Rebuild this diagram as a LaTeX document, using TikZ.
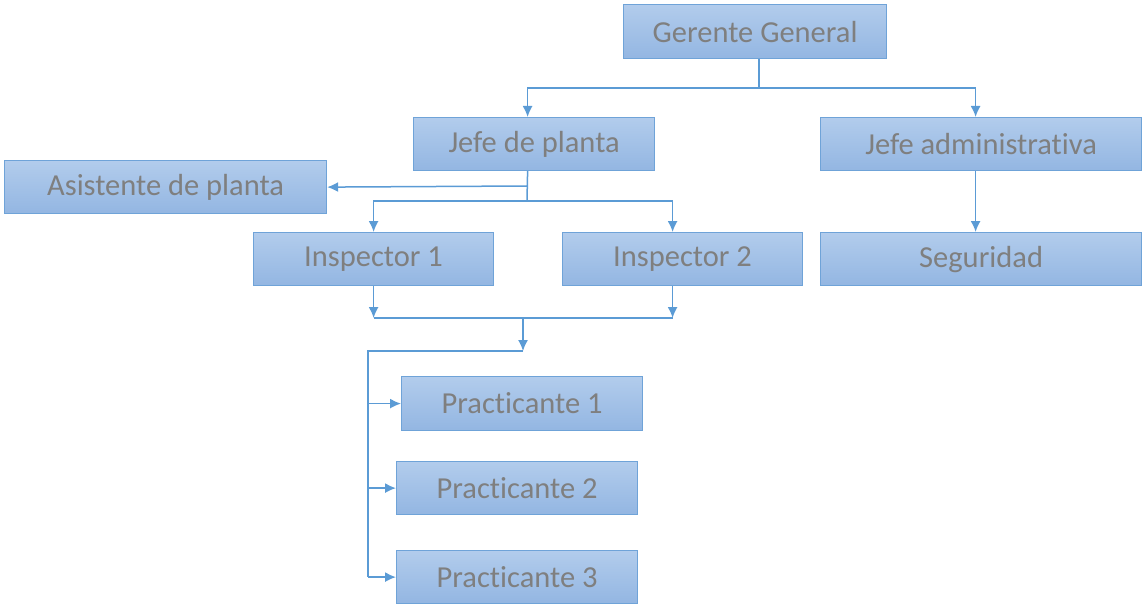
\documentclass[tikz,border=0pt]{standalone}
\usepackage{fontspec}
\setmainfont{Carlito}[Ligatures=NoCommon]
\usetikzlibrary{arrows.meta}
\definecolor{boxtop}{HTML}{B2CCEC}
\definecolor{boxbot}{HTML}{93B6E2}
\definecolor{boxline}{HTML}{6FA3D8}
\definecolor{linkc}{HTML}{5B9BD5}
\definecolor{txt}{HTML}{7F7F7F}
\begin{document}
\begin{tikzpicture}[x=1pt,y=-1pt,
  box/.style={draw=boxline, line width=1.2pt, top color=boxtop, bottom color=boxbot,
    text=txt, font=\fontsize{30.5}{36}\selectfont, inner sep=0pt, anchor=north west},
  link/.style={draw=linkc, line width=1.5pt},
  arr/.style={link, -{Latex[length=11pt,width=10pt]}}]
\useasboundingbox (0,0) rectangle (1142,604);

% boxes
\node[box, minimum width=263pt, minimum height=54pt] (gg) at (623,4) {Gerente General};
\node[box, minimum width=241pt, minimum height=53pt] (jp) at (413,117) {Jefe de planta};
\node[box, minimum width=321pt, minimum height=53pt] (ja) at (820,117) {Jefe administrativa};
\node[box, minimum width=322pt, minimum height=53pt] (ap) at (4,160) {Asistente de planta};
\node[box, minimum width=240pt, minimum height=53pt] (i1) at (253,232) {Inspector 1};
\node[box, minimum width=240pt, minimum height=53pt] (i2) at (562,232) {Inspector 2};
\node[box, minimum width=321pt, minimum height=53pt] (seg) at (820,232) {Seguridad};
\node[box, minimum width=241pt, minimum height=54pt] (p1) at (401,376) {Practicante 1};
\node[box, minimum width=241pt, minimum height=53pt] (p2) at (396,461) {Practicante 2};
\node[box, minimum width=241pt, minimum height=53pt] (p3) at (396,550) {Practicante 3};

% Gerente General to the two heads
\coordinate (g1) at (759,88);
\draw[link] (g1 |- gg.south) -- (g1);
\draw[arr] (g1) -| ([xshift=-6.5pt]jp.north);
\draw[arr] (g1) -| ([xshift=-5.5pt]ja.north);
\draw[arr] ([xshift=-5.5pt]ja.south) -- ([xshift=-5.5pt]seg.north);

% Jefe de planta to assistant and inspectors
\coordinate (j1) at (527,186);
\coordinate (j2) at (527,201);
\draw[link] ([xshift=-6.5pt]jp.south) -- (j2);
\draw[arr] (j1) -- (ap.east);
\draw[arr] (j2) -| (i1.north);
\draw[arr] (j2) -| ([xshift=-10pt]i2.north);

% inspectors merge into the interns' bus
\coordinate (mid) at (523,318);
\draw[arr] (i1.south) -- (i1.south |- mid);
\draw[arr] ([xshift=-10pt]i2.south) -- ([xshift=-10pt]i2.south |- mid);
\draw[link] (i1.south |- mid) -- ([xshift=-10pt]i2.south |- mid);
\coordinate (bus) at (523,351);
\coordinate (spine) at (368,351);
\draw[arr] (mid) -- (bus);
\draw[link] (bus) -- (spine) -- (spine |- p3.west);
\draw[arr] (spine |- p1.west) -- (p1.west);
\draw[arr] (spine |- p2.west) -- (p2.west);
\draw[arr] (spine |- p3.west) -- (p3.west);
\end{tikzpicture}
\end{document}
